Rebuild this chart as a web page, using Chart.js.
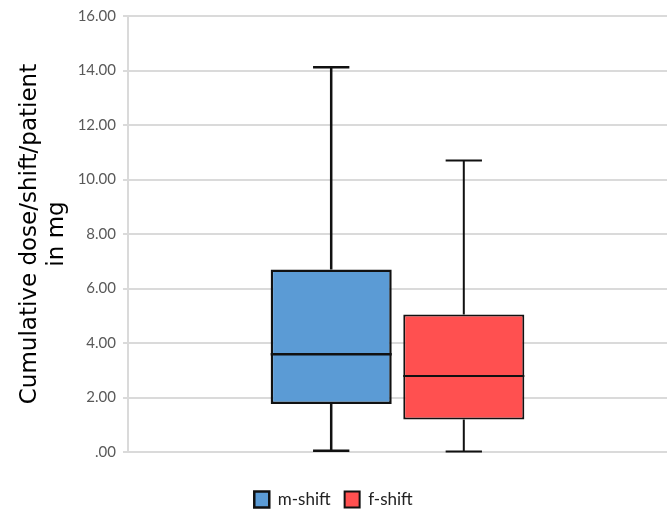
<!DOCTYPE html>
<html>
<head>
<meta charset="utf-8">
<script src="https://cdn.jsdelivr.net/npm/chart.js@4"></script>
<style>
  html, body { margin: 0; padding: 0; background: #fff; }
  #wrap { width: 667px; height: 512px; }
</style>
</head>
<body>
<div id="wrap"><canvas id="myChart"></canvas></div>
<script>
const groups = ["m-shift", "f-shift"];
const minVals = [0.05, 0.02];
const q1Vals = [1.76, 1.19];
const medianVals = [3.59, 2.79];
const q3Vals = [6.70, 5.05];
const maxVals = [14.12, 10.70];
const fillColors = ["#5B9BD5", "#FF5050"];
const yTicks = [0, 2, 4, 6, 8, 10, 12, 14, 16];

// whiskers, caps and median line drawn on top of the floating bars
const boxPlot = {
  id: "boxPlot",
  afterDatasetsDraw(chart) {
    const y = chart.scales.y;
    const ctx = chart.ctx;
    ctx.save();
    chart.data.datasets.forEach((ds, i) => {
      const bar = chart.getDatasetMeta(i).data[0];
      const x = bar.x;
      const half = bar.width / 2;
      const cap = bar.width * 0.15;
      ctx.strokeStyle = "#111";
      ctx.lineWidth = ds.borderWidth;
      ctx.beginPath();
      // upper whisker
      ctx.moveTo(x, y.getPixelForValue(q3Vals[i]));
      ctx.lineTo(x, y.getPixelForValue(maxVals[i]));
      ctx.moveTo(x - cap, y.getPixelForValue(maxVals[i]));
      ctx.lineTo(x + cap, y.getPixelForValue(maxVals[i]));
      // lower whisker
      ctx.moveTo(x, y.getPixelForValue(q1Vals[i]));
      ctx.lineTo(x, y.getPixelForValue(minVals[i]));
      ctx.moveTo(x - cap, y.getPixelForValue(minVals[i]));
      ctx.lineTo(x + cap, y.getPixelForValue(minVals[i]));
      // median
      ctx.moveTo(x - half, y.getPixelForValue(medianVals[i]));
      ctx.lineTo(x + half, y.getPixelForValue(medianVals[i]));
      ctx.stroke();
    });
    ctx.restore();
  }
};

const ctx = document.getElementById("myChart").getContext("2d");
const myChart = new Chart(ctx, {
  type: "bar",
  data: {
    labels: [""],
    datasets: groups.map((g, i) => ({
      label: g,
      data: [[q1Vals[i], q3Vals[i]]],
      backgroundColor: fillColors[i],
      borderColor: "#111",
      borderWidth: i === 0 ? 2.5 : 2,
      borderSkipped: false,
      categoryPercentage: 0.492,
      barPercentage: 0.913,
    })),
  },
  options: {
    responsive: true,
    maintainAspectRatio: false,
    animation: false,
    layout: { padding: { top: 8, right: 0, bottom: -6, left: 0 } },
    plugins: {
      tooltip: { enabled: false },
      legend: {
        position: "bottom",
        labels: {
          font: { family: "Lato", size: 17 },
          color: "#222",
          boxWidth: 15,
          boxHeight: 16,
          padding: 14,
        },
      },
    },
    scales: {
      x: {
        grid: { display: false },
        border: { display: false },
        ticks: { display: false },
        afterFit(scale) {
          scale.height = 25;
        },
      },
      y: {
        min: 0,
        max: 16,
        afterBuildTicks(scale) {
          scale.ticks = yTicks.map((v) => ({ value: v }));
        },
        afterFit(scale) {
          scale.width = 128;
        },
        ticks: {
          font: { family: "Lato", size: 15 },
          color: "#595959",
          padding: 7,
          callback: (v) => (v === 0 ? ".00" : v.toFixed(2)),
        },
        grid: {
          color: "#dadada",
          lineWidth: 2,
          tickLength: 5,
        },
        border: { color: "#dadada", width: 2 },
        title: {
          display: true,
          text: ["Cumulative dose/shift/patient", "in mg"],
          font: { family: "DejaVu Sans", size: 23 },
          color: "#000",
          padding: { top: 16, bottom: 0 },
        },
      },
    },
  },
  plugins: [boxPlot],
});
</script>
</body>
</html>
